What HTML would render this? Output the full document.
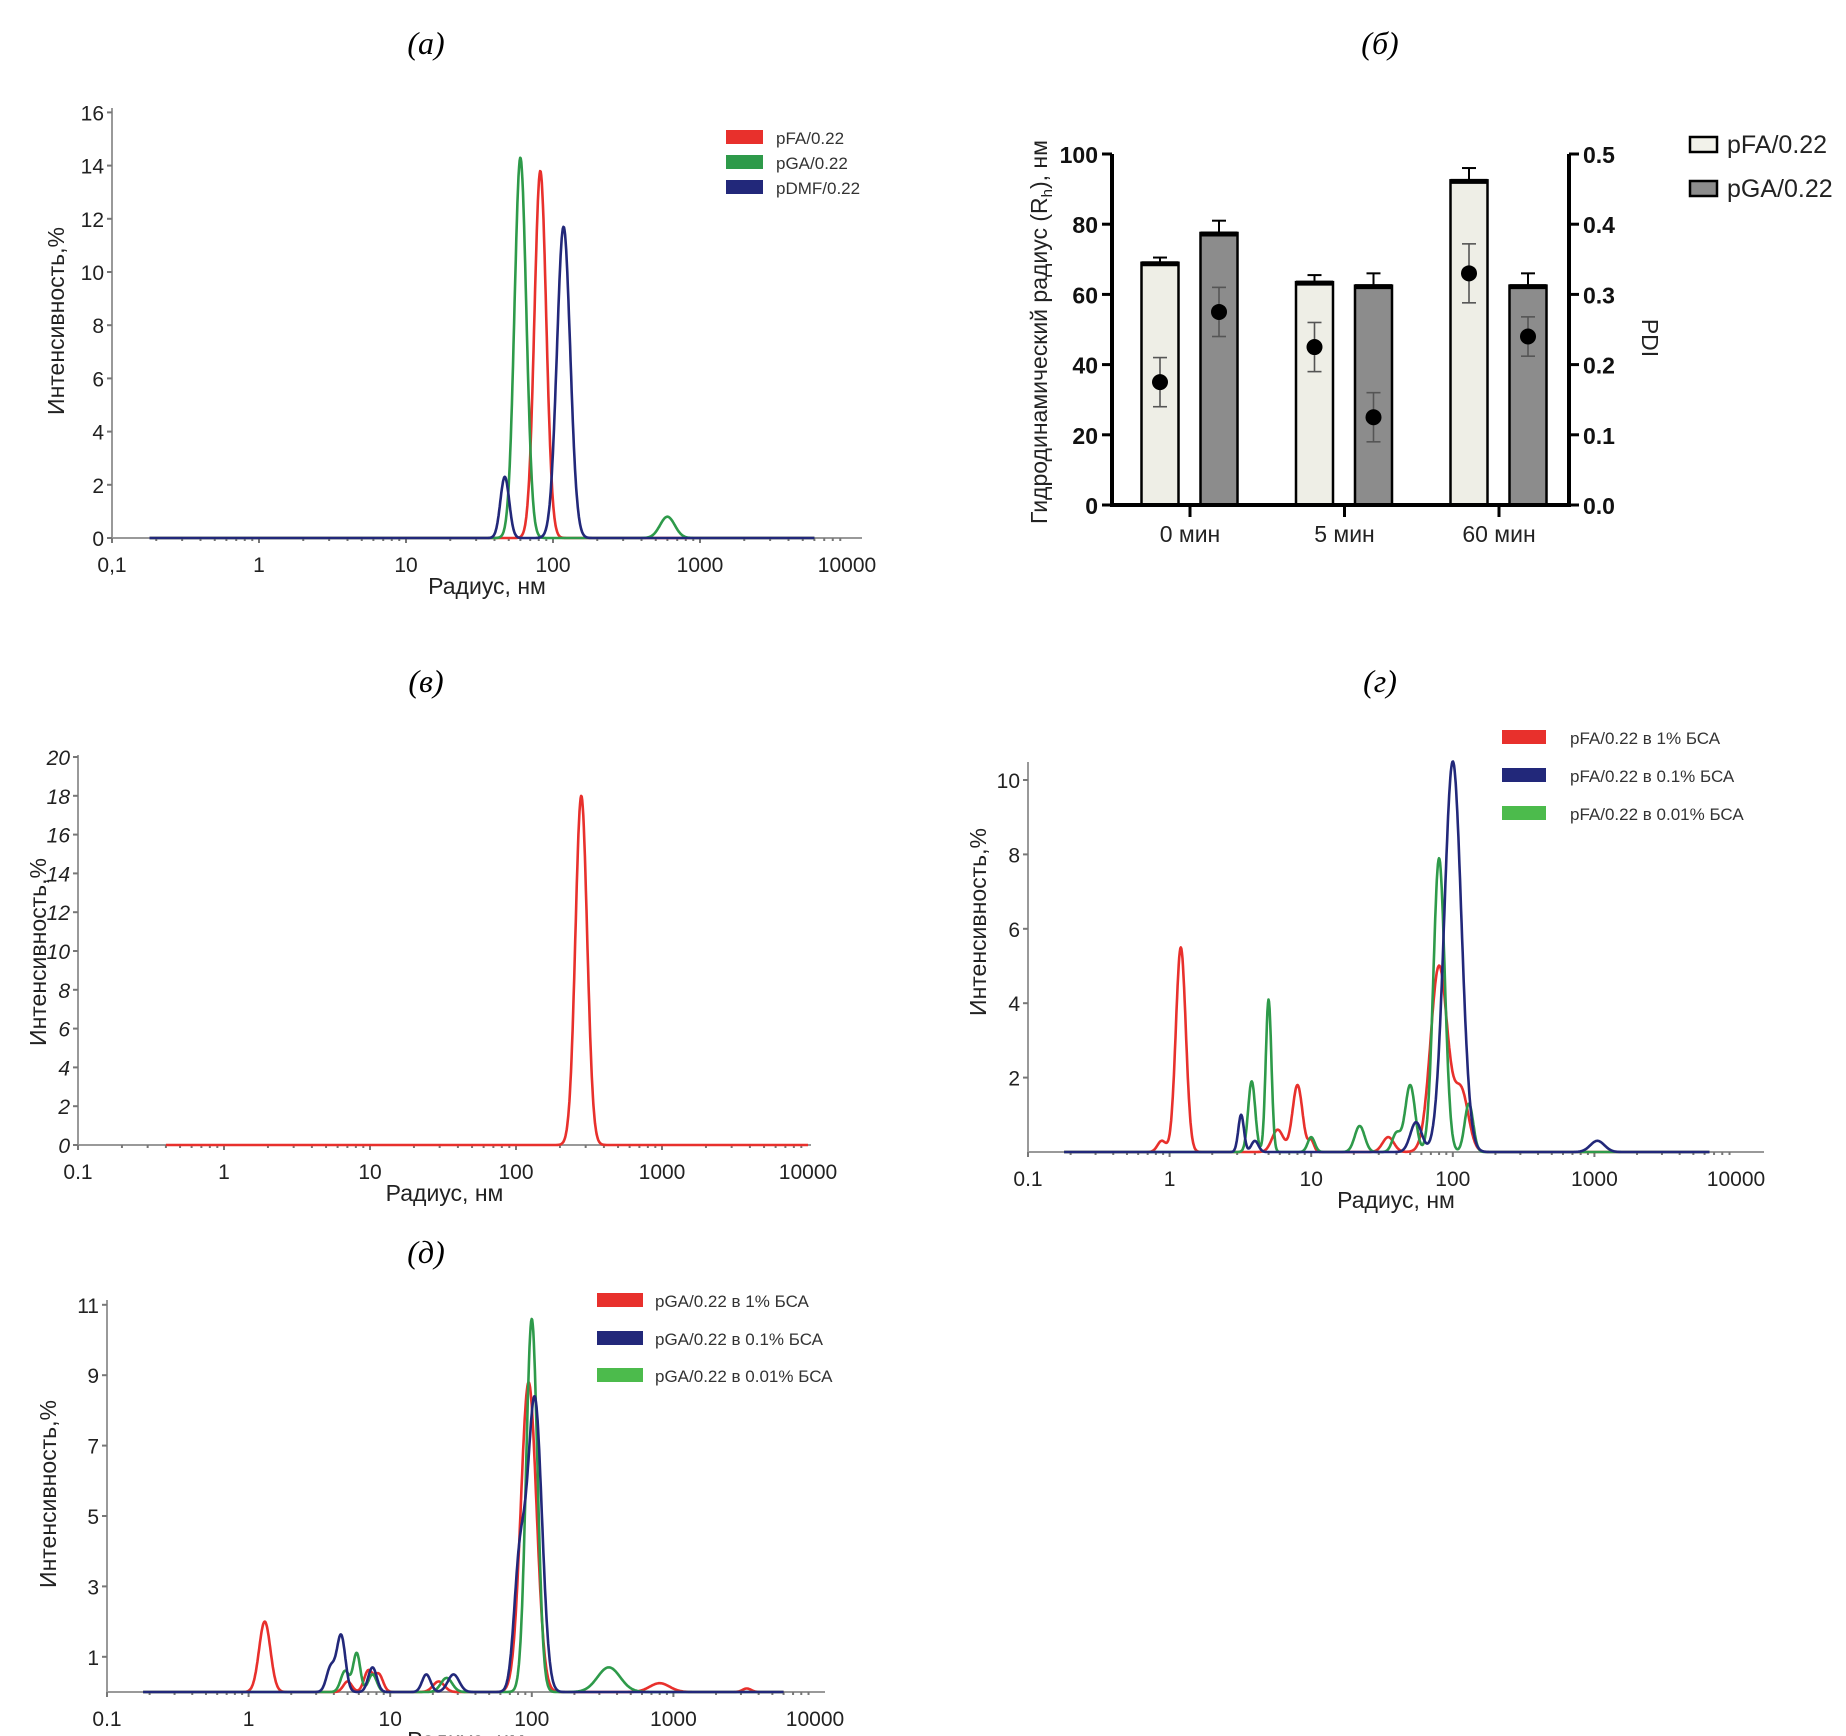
<!DOCTYPE html>
<html><head><meta charset="utf-8">
<style>
html,body{margin:0;padding:0;background:#fff;}
svg{display:block;}
text{font-family:"Liberation Sans","DejaVu Sans",sans-serif;}
.ttl{font-family:"Liberation Serif",serif;font-style:italic;font-size:32px;}
</style></head>
<body>
<svg id="fig" width="1846" height="1736" viewBox="0 0 1846 1736" xmlns="http://www.w3.org/2000/svg">
<text class="ttl" x="426" y="54" text-anchor="middle">(а)</text>
<text class="ttl" x="1380" y="54" text-anchor="middle">(б)</text>
<text class="ttl" x="426" y="692" text-anchor="middle">(в)</text>
<text class="ttl" x="1380" y="692" text-anchor="middle">(г)</text>
<text class="ttl" x="426" y="1263" text-anchor="middle">(д)</text>
<g id="pa"></g>
<g id="pb"></g>
<g id="pv"></g>
<g id="pg"></g>
<g id="pd"></g>
</svg>
<script>
// ---------- data ----------
var xTickLabelsA = ["0,1","1","10","100","1000","10000"];
var xTickLabels = ["0.1","1","10","100","1000","10000"];
// panel a
var aRedRadius=[82], aRedHeight=[13.8], aRedWidth=[0.04];
var aGreenRadius=[60,600], aGreenHeight=[14.3,0.8], aGreenWidth=[0.04,0.05];
var aBlueRadius=[47,118], aBlueHeight=[2.3,11.7], aBlueWidth=[0.03,0.045];
var aYTicks=[0,2,4,6,8,10,12,14,16];
// panel b
var bCategories=["0 мин","5 мин","60 мин"];
var bPFA=[69,63.5,92.5], bPFAerr=[1.5,2,3.5];
var bPGA=[77.5,62.5,62.5], bPGAerr=[3.5,3.5,3.5];
var bPdiPFA=[0.175,0.225,0.33], bPdiPFAerr=[0.035,0.035,0.042];
var bPdiPGA=[0.275,0.125,0.24], bPdiPGAerr=[0.035,0.035,0.028];
var bYTicks=[0,20,40,60,80,100];
var bY2Ticks=["0.0","0.1","0.2","0.3","0.4","0.5"];
// panel v
var vRedRadius=[280], vRedHeight=[18], vRedWidth=[0.04];
var vYTicks=[0,2,4,6,8,10,12,14,16,18,20];
// panel g
var gRedRadius=[0.88,1.2,5.8,8,10,35,80,115], gRedHeight=[0.3,5.5,0.6,1.8,0.3,0.4,5.0,1.6], gRedWidth=[0.03,0.035,0.04,0.035,0.02,0.04,0.06,0.05];
var gBlueRadius=[3.2,4,55,100,1050], gBlueHeight=[1.0,0.3,0.8,10.5,0.3], gBlueWidth=[0.02,0.025,0.04,0.06,0.05];
var gGreenRadius=[3.8,5,10,22,40,50,80,130], gGreenHeight=[1.9,4.1,0.4,0.7,0.5,1.8,7.9,1.3], gGreenWidth=[0.025,0.02,0.025,0.035,0.03,0.035,0.04,0.03];
var gYTicks=[2,4,6,8,10];
// panel d
var dRedRadius=[1.3,5,7,8.3,22,95,800,3300], dRedHeight=[2.0,0.3,0.6,0.5,0.3,8.8,0.25,0.1], dRedWidth=[0.04,0.03,0.03,0.03,0.04,0.055,0.07,0.03];
var dBlueRadius=[3.8,4.5,7.5,18,28,82,105], dBlueHeight=[0.7,1.6,0.7,0.5,0.5,3.5,8.3], dBlueWidth=[0.03,0.03,0.03,0.03,0.04,0.04,0.05];
var dGreenRadius=[4.8,5.8,7.5,25,100,350], dGreenHeight=[0.6,1.1,0.5,0.4,10.6,0.7], dGreenWidth=[0.03,0.025,0.03,0.04,0.04,0.08];
var dYTicks=[1,3,5,7,9,11];

var NS="http://www.w3.org/2000/svg";
var RED="#e8302c", GREEN="#2e9a4a", BLUE="#22287a";
function mk(parent,tag,attrs,txt){var e=document.createElementNS(NS,tag);for(var k in attrs)e.setAttribute(k,attrs[k]);if(txt!==undefined)e.textContent=txt;parent.appendChild(e);return e;}

function logChart(g,cfg){
  var xs=function(v){return cfg.x0+(Math.log10(v)+1)*cfg.dec;};
  var ys=function(v){return cfg.y0-v*cfg.unit;};
  var ax=mk(g,"line",{x1:cfg.x0,y1:cfg.y0,x2:cfg.xEnd,y2:cfg.y0,stroke:"#999","stroke-width":2});
  
  
  var ay=mk(g,"line",{x1:cfg.x0,y1:cfg.y0,x2:cfg.x0,y2:cfg.yTop,stroke:"#999","stroke-width":2});
  
  
  for(var d=0;d<cfg.xLabels.length;d++){
    var v=Math.pow(10,d-1);
    for(var m=1;m<10&&d<cfg.xLabels.length-1;m++){
      var tx=xs(v*m);mk(g,"line",{x1:tx,y1:cfg.y0,x2:tx,y2:cfg.y0+(m==1?5:3),stroke:"#777","stroke-width":2});
    }
    var t=mk(g,"text",{x:xs(v),y:cfg.y0+34,"text-anchor":"middle","font-size":cfg.fs||21,fill:"#222"},cfg.xLabels[d]);
    
    
  }
  for(var i=0;i<cfg.yTicks.length;i++){
    var yy=ys(cfg.yTicks[i]);
    mk(g,"line",{x1:cfg.x0-5,y1:yy,x2:cfg.x0,y2:yy,stroke:"#777","stroke-width":2});
    var lt=mk(g,"text",{x:cfg.x0-8,y:yy+8,"text-anchor":"end","font-size":cfg.fs||21,fill:"#222","font-style":cfg.italic?"italic":"normal"},String(cfg.yTicks[i]));
    
    
  }
  var xl=mk(g,"text",{x:(cfg.x0+cfg.xEnd)/2,y:cfg.y0+56,"text-anchor":"middle","font-size":23,fill:"#222"},"Радиус, нм");
  
  
  var yl=mk(g,"text",{x:0,y:0,transform:"translate("+cfg.ylx+","+cfg.yly+") rotate(-90)","text-anchor":"middle","font-size":23,fill:"#222"},"Интенсивность,%");
  
  
  cfg.series.forEach(function(s){
    var pts=[];
    var a=Math.log10(cfg.from),b=Math.log10(cfg.to);
    for(var k=0;k<=1200;k++){
      var lx=a+(b-a)*k/1200,yv=0;
      for(var p=0;p<s.r.length;p++){var z=(lx-Math.log10(s.r[p]))/s.w[p];yv+=s.h[p]*Math.exp(-0.5*z*z);}
      pts.push(xs(Math.pow(10,lx)).toFixed(1)+","+ys(yv).toFixed(1));
    }
    var pl=mk(g,"polyline",{points:pts.join(" "),fill:"none",stroke:s.c,"stroke-width":2.6,"stroke-linejoin":"round"});
    
    
  });
  cfg.legend.forEach(function(L,i){
    var r=mk(g,"rect",{x:L.x,y:L.y-8,width:L.w,height:14,fill:L.c});
    
    
    var t=mk(g,"text",{x:L.tx,y:L.y+6,"font-size":L.fs,fill:"#333"},L.t);
    
    
  });
}

logChart(document.getElementById("pa"),{x0:112,dec:147,xEnd:862,y0:538,unit:26.6,yTop:108,from:0.18,to:6000,
  xLabels:xTickLabelsA,yTicks:aYTicks,ylx:64,yly:321,
  series:[{name:"series-pfa",r:aRedRadius,h:aRedHeight,w:aRedWidth,c:RED},{name:"series-pga",r:aGreenRadius,h:aGreenHeight,w:aGreenWidth,c:GREEN},{name:"series-pdmf",r:aBlueRadius,h:aBlueHeight,w:aBlueWidth,c:BLUE}],
  legend:[{x:726,y:138,w:37,c:RED,tx:776,t:"pFA/0.22",fs:17},{x:726,y:163,w:37,c:GREEN,tx:776,t:"pGA/0.22",fs:17},{x:726,y:188,w:37,c:BLUE,tx:776,t:"pDMF/0.22",fs:17}]});

logChart(document.getElementById("pv"),{x0:78,dec:146,xEnd:811,y0:1145,unit:19.4,yTop:755,from:0.4,to:10000,
  xLabels:xTickLabels,yTicks:vYTicks,ylx:46,yly:952,italic:true,
  series:[{name:"series-pfa",r:vRedRadius,h:vRedHeight,w:vRedWidth,c:RED}],legend:[]});

logChart(document.getElementById("pg"),{x0:1028,dec:141.6,xEnd:1764,y0:1152,unit:37.2,yTop:762,from:0.18,to:6500,
  xLabels:xTickLabels,yTicks:gYTicks,ylx:986,yly:922,
  series:[{name:"series-1pct-bsa",r:gRedRadius,h:gRedHeight,w:gRedWidth,c:RED},{name:"series-0.01pct-bsa",r:gGreenRadius,h:gGreenHeight,w:gGreenWidth,c:GREEN},{name:"series-0.1pct-bsa",r:gBlueRadius,h:gBlueHeight,w:gBlueWidth,c:BLUE}],
  legend:[{x:1502,y:738,w:44,c:RED,tx:1570,t:"pFA/0.22 в 1% БСА",fs:17},{x:1502,y:776,w:44,c:BLUE,tx:1570,t:"pFA/0.22 в 0.1% БСА",fs:17},{x:1502,y:814,w:44,c:"#4cbb4c",tx:1570,t:"pFA/0.22  в 0.01% БСА",fs:17}]});

logChart(document.getElementById("pd"),{x0:107,dec:141.6,xEnd:825,y0:1692,unit:35.2,yTop:1300,from:0.18,to:6000,
  xLabels:xTickLabels,yTicks:dYTicks,ylx:56,yly:1494,
  series:[{name:"series-1pct-bsa",r:dRedRadius,h:dRedHeight,w:dRedWidth,c:RED},{name:"series-0.01pct-bsa",r:dGreenRadius,h:dGreenHeight,w:dGreenWidth,c:GREEN},{name:"series-0.1pct-bsa",r:dBlueRadius,h:dBlueHeight,w:dBlueWidth,c:BLUE}],
  legend:[{x:597,y:1301,w:46,c:RED,tx:655,t:"pGA/0.22 в 1% БСА",fs:17},{x:597,y:1339,w:46,c:BLUE,tx:655,t:"pGA/0.22 в 0.1% БСА",fs:17},{x:597,y:1376,w:46,c:"#4cbb4c",tx:655,t:"pGA/0.22  в 0.01% БСА",fs:17}]});

// ---------- panel b ----------
(function(){
  var g=document.getElementById("pb");
  var L=1112,R=1569,Y0=505,Y100=154;
  var ys=function(v){return Y0-(Y0-Y100)*v/100;};
  var ys2=function(v){return Y0-(Y0-Y100)*v/0.5;};
  var groupX=function(i){return 1190+i*154.5;};
  var bw=37;
  for(var i=0;i<bCategories.length;i++){
    var cx=groupX(i);
    [[bPFA,bPFAerr,"#eeeee6",-30,"bar-pfa"],[bPGA,bPGAerr,"#8c8c8c",29,"bar-pga"]].forEach(function(s){
      var x=cx+s[3]-bw/2,top=ys(s[0][i]);
      var eb=mk(g,"line",{x1:cx+s[3],y1:top,x2:cx+s[3],y2:ys(s[0][i]+s[1][i]),stroke:"#000","stroke-width":2});
      
      
      mk(g,"line",{x1:cx+s[3]-7,y1:ys(s[0][i]+s[1][i]),x2:cx+s[3]+7,y2:ys(s[0][i]+s[1][i]),stroke:"#000","stroke-width":2});
      var r=mk(g,"rect",{x:x,y:top,width:bw,height:Y0-top,fill:s[2],stroke:"#000","stroke-width":2.5});
      
      
      mk(g,"line",{x1:x,y1:top+1,x2:x+bw,y2:top+1,stroke:"#000","stroke-width":5});
    });
    [[bPdiPFA,bPdiPFAerr,-30],[bPdiPGA,bPdiPGAerr,29]].forEach(function(s){
      var px=cx+s[2],py=ys2(s[0][i]),e1=ys2(s[0][i]+s[1][i]),e2=ys2(s[0][i]-s[1][i]);
      mk(g,"line",{x1:px,y1:e1,x2:px,y2:e2,stroke:"#555","stroke-width":1.6});
      mk(g,"line",{x1:px-7,y1:e1,x2:px+7,y2:e1,stroke:"#555","stroke-width":1.6});
      mk(g,"line",{x1:px-7,y1:e2,x2:px+7,y2:e2,stroke:"#555","stroke-width":1.6});
      var c=mk(g,"circle",{cx:px,cy:py,r:8,fill:"#000"});
      
      
    });
    mk(g,"line",{x1:cx,y1:Y0,x2:cx,y2:Y0+12,stroke:"#000","stroke-width":3});
    var ct=mk(g,"text",{x:cx,y:Y0+37,"text-anchor":"middle","font-size":23,fill:"#222"},bCategories[i]);
    
    
  }
  var xa=mk(g,"line",{x1:L-2,y1:Y0,x2:R+2,y2:Y0,stroke:"#000","stroke-width":4});
  
  
  var la=mk(g,"line",{x1:L,y1:Y0,x2:L,y2:Y100,stroke:"#000","stroke-width":4});
  
  
  var ra=mk(g,"line",{x1:R,y1:Y0,x2:R,y2:Y100,stroke:"#000","stroke-width":4});
  
  
  for(var j=0;j<bYTicks.length;j++){
    var yy=ys(bYTicks[j]);
    mk(g,"line",{x1:L-10,y1:yy,x2:L,y2:yy,stroke:"#000","stroke-width":3});
    mk(g,"line",{x1:R,y1:yy,x2:R+10,y2:yy,stroke:"#000","stroke-width":3});
    var t1=mk(g,"text",{x:L-14,y:yy+9,"text-anchor":"end","font-size":23,"font-weight":"bold",fill:"#111"},String(bYTicks[j]));
    
    
    var t2=mk(g,"text",{x:R+14,y:yy+9,"font-size":23,"font-weight":"bold",fill:"#111"},bY2Ticks[j]);
    
    
  }
  var yl=mk(g,"text",{transform:"translate(1047,332) rotate(-90)","text-anchor":"middle","font-size":23,fill:"#222"});
  
  
  mk(yl,"tspan",{},"Гидродинамический радиус (R");
  mk(yl,"tspan",{"font-size":15,dy:5},"h");
  mk(yl,"tspan",{dy:-5},"), нм");
  var y2=mk(g,"text",{transform:"translate(1642,338) rotate(90)","text-anchor":"middle","font-size":23,fill:"#222"},"PDI");
  
  
  [["#f2f2ea","pFA/0.22",144],["#8c8c8c","pGA/0.22",188]].forEach(function(e){
    var r=mk(g,"rect",{x:1690,y:e[2]-7,width:27,height:15,fill:e[0],stroke:"#000","stroke-width":2.5});
    
    
    var t=mk(g,"text",{x:1727,y:e[2]+9,"font-size":25,fill:"#222"},e[1]);
    
    
  });
})();
</script>
</body></html>
